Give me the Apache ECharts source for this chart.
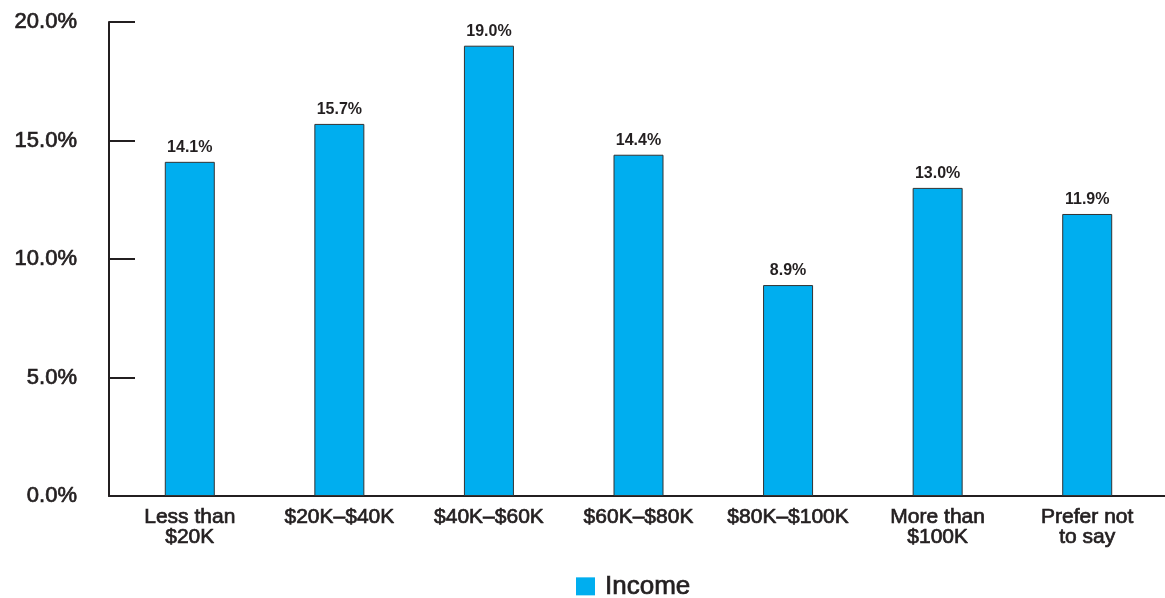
<!DOCTYPE html>
<html>
<head>
<meta charset="utf-8">
<script src="https://cdn.jsdelivr.net/npm/echarts@6/dist/echarts.min.js"></script>
<style>
  html, body { margin: 0; padding: 0; background: #fff; }
  #chart { width: 1165px; height: 598px; }
</style>
</head>
<body>
<div id="chart"></div>
<script>
// Income bracket shares (percent)
const categories = ['Less than\n$20K', '$20K–$40K', '$40K–$60K', '$60K–$80K', '$80K–$100K', 'More than\n$100K', 'Prefer not\nto say'];
const incomeValues = [14.1, 15.7, 19.0, 14.4, 8.9, 13.0, 11.9];
const seriesName = 'Income';
const yTicks = [0, 5, 10, 15, 20];

const chart = echarts.init(document.getElementById('chart'));
const ink = '#231f20';
const font = '"Liberation Sans", Arial, Helvetica, sans-serif';
// a thin outline in the text colour gives the labels a medium weight
const medium = { textBorderColor: ink, textBorderWidth: 0.7 };

const yMin = yTicks[0];
const yMax = yTicks[yTicks.length - 1];

chart.setOption({
  animation: false,
  textStyle: { fontFamily: font },
  grid: [
    // plot area holding the bars
    { left: 115, right: 3, top: 22, bottom: 102 },
    // frame carrying the axis lines and the percentage scale
    { left: 109, right: 0, top: 22, bottom: 102 }
  ],
  legend: {
    left: 571,
    top: 568,
    itemWidth: 19,
    itemHeight: 18,
    icon: 'rect',
    textStyle: Object.assign({ fontSize: 26, color: ink, fontFamily: font, padding: [0, 0, 0, 5] }, medium),
    data: [{ name: seriesName, itemStyle: { borderWidth: 0 } }]
  },
  xAxis: [
    {
      gridIndex: 0,
      type: 'category',
      data: categories,
      axisLine: { show: false },
      axisTick: { show: false },
      axisLabel: Object.assign({ fontSize: 21, color: ink, margin: 11, lineHeight: 20, interval: 0 }, medium)
    },
    {
      gridIndex: 1,
      type: 'value',
      min: 0,
      max: 1,
      axisLine: { show: true, lineStyle: { color: ink, width: 2 } },
      axisTick: { show: false },
      axisLabel: { show: false },
      splitLine: { show: false }
    }
  ],
  yAxis: [
    {
      gridIndex: 0,
      type: 'value',
      min: yMin,
      max: yMax,
      interval: 5,
      show: false
    },
    {
      gridIndex: 1,
      type: 'value',
      min: yMin,
      max: yMax,
      interval: 5,
      splitLine: { show: false },
      axisLine: { show: true, lineStyle: { color: ink, width: 2 } },
      axisTick: { show: true, inside: true, length: 26, lineStyle: { color: ink, width: 2 } },
      axisLabel: Object.assign({
        fontSize: 22, color: ink, margin: 32,
        formatter: v => v.toFixed(1) + '%'
      }, medium)
    }
  ],
  series: [{
    name: seriesName,
    type: 'bar',
    xAxisIndex: 0,
    yAxisIndex: 0,
    data: incomeValues,
    barWidth: 50,
    itemStyle: { color: '#00aeef', borderColor: '#333333', borderWidth: 1 },
    label: {
      show: true,
      position: 'top',
      distance: 6,
      fontSize: 16,
      fontWeight: 'bold',
      color: ink,
      formatter: p => p.value.toFixed(1) + '%'
    }
  }]
});
</script>
</body>
</html>
